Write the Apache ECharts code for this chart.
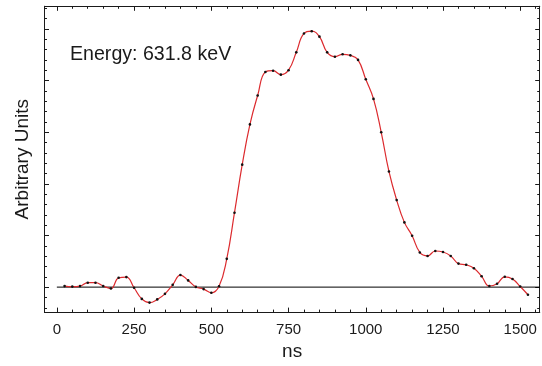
<!DOCTYPE html>
<html>
<head>
<meta charset="utf-8">
<script src="https://cdn.jsdelivr.net/npm/echarts@6/dist/echarts.min.js"></script>
<style>
  html, body { margin: 0; padding: 0; background: #fff; }
  #chart { width: 542px; height: 366px; }
</style>
</head>
<body>
<div id="chart"></div>
<script>
// Sample times (ns) and pulse amplitude (arbitrary units)
const sampleTimes = [
  25, 50, 75, 100, 125, 150, 175, 200, 225, 250,
  275, 300, 325, 350, 375, 400, 425, 450, 475, 500,
  525, 550, 575, 600, 625, 650, 675, 700, 725, 750,
  775, 800, 825, 850, 875, 900, 925, 950, 975, 1000,
  1025, 1050, 1075, 1100, 1125, 1150, 1175, 1200, 1225, 1250,
  1275, 1300, 1325, 1350, 1375, 1400, 1425, 1450, 1475, 1500,
  1525
];
const amplitude = [
  1.0, 0.5, 1.0, 4.3, 4.3, 1.1, -1.4, 9.0, 9.7, -0.6,
  -11.4, -15.0, -11.9, -6.5, 2.2, 11.7, 6.5, 0.2, -1.9, -5.5,
  0.8, 27.4, 72.1, 118.6, 157.6, 185.6, 208.4, 209.6, 205.8, 210.1,
  227.4, 245.7, 247.9, 242.6, 227.4, 223.2, 225.5, 224.5, 220.1, 201.3,
  182.3, 150.0, 112.0, 84.3, 62.7, 49.8, 33.6, 30.2, 35.0, 34.0,
  30.2, 22.8, 21.6, 18.3, 10.5, 1.1, 3.3, 10.0, 7.9, 0.6,
  -7.4
];

// Zero reference line
const baselineTimes = [0, 1563];
const baselineLevel = [0, 0];

// Tick positions
const xTickLabels = [0, 250, 500, 750, 1000, 1250, 1500];
const xMinorTicks = [0, 50, 100, 150, 200, 250, 300, 350, 400, 450, 500, 550, 600, 650, 700, 750,
  800, 850, 900, 950, 1000, 1050, 1100, 1150, 1200, 1250, 1300, 1350, 1400, 1450, 1500, 1550];
const yMajorTicks = [0, 50, 100, 150, 200, 250];
const yMinorTicks = [-20, -10, 0, 10, 20, 30, 40, 50, 60, 70, 80, 90, 100, 110, 120, 130, 140,
  150, 160, 170, 180, 190, 200, 210, 220, 230, 240, 250, 260, 270];

const energyLabel = 'Energy: 631.8 keV';

const FONT = '"Liberation Sans", Arial, Helvetica, sans-serif';
const INK = '#1a1a1a';
const X_RANGE = [-40, 1563];
const Y_RANGE = [-24.2, 272];

function frameAxis(position, range, ticks, len, extra) {
  return Object.assign({
    type: 'value',
    position: position,
    min: range[0],
    max: range[1],
    axisLine: { show: true, onZero: false, lineStyle: { color: INK, width: 1 } },
    axisTick: { show: true, inside: true, length: len, customValues: ticks,
      lineStyle: { color: INK, width: 1 } },
    axisLabel: { show: false },
    splitLine: { show: false }
  }, extra || {});
}

const chart = echarts.init(document.getElementById('chart'), null, { renderer: 'canvas' });

chart.setOption({
  animation: false,
  backgroundColor: '#fff',
  title: {
    text: energyLabel,
    left: 70,
    top: 45,
    padding: 0,
    textStyle: { fontFamily: FONT, fontSize: 19.6, fontWeight: 'normal', color: INK }
  },
  grid: { left: 44.5, right: 2.3, top: 6.3, bottom: 48, containLabel: false },
  xAxis: [
    frameAxis('bottom', X_RANGE, xTickLabels, 4.5, {
      name: 'ns',
      nameLocation: 'middle',
      nameGap: 25,
      nameTextStyle: { fontFamily: FONT, fontSize: 19, color: INK },
      axisLabel: { show: true, customValues: xTickLabels, margin: 10,
        formatter: (v) => String(v),
        fontFamily: FONT, fontSize: 15, color: INK }
    }),
    frameAxis('bottom', X_RANGE, xMinorTicks, 2.5),
    frameAxis('top', X_RANGE, xTickLabels, 4.5),
    frameAxis('top', X_RANGE, xMinorTicks, 2.5)
  ],
  yAxis: [
    frameAxis('left', Y_RANGE, yMajorTicks, 4.5, {
      name: 'Arbitrary Units',
      nameLocation: 'middle',
      nameGap: 12,
      nameTextStyle: { fontFamily: FONT, fontSize: 19, color: INK }
    }),
    frameAxis('left', Y_RANGE, yMinorTicks, 2.5),
    frameAxis('right', Y_RANGE, yMajorTicks, 4.5),
    frameAxis('right', Y_RANGE, yMinorTicks, 2.5)
  ],
  series: [
    {
      name: 'baseline',
      type: 'line',
      xAxisIndex: 0,
      yAxisIndex: 0,
      data: baselineTimes.map((t, i) => [t, baselineLevel[i]]),
      symbol: 'none',
      lineStyle: { color: '#000', width: 1 },
      silent: true,
      z: 2
    },
    {
      name: 'pulse',
      type: 'line',
      xAxisIndex: 0,
      yAxisIndex: 0,
      data: sampleTimes.map((t, i) => [t, amplitude[i]]),
      smooth: 0.45,
      symbol: 'circle',
      symbolSize: 2.6,
      showSymbol: true,
      itemStyle: { color: '#111', borderWidth: 0 },
      lineStyle: { color: '#dc2a2e', width: 1.2 },
      z: 3
    }
  ]
});
</script>
</body>
</html>
